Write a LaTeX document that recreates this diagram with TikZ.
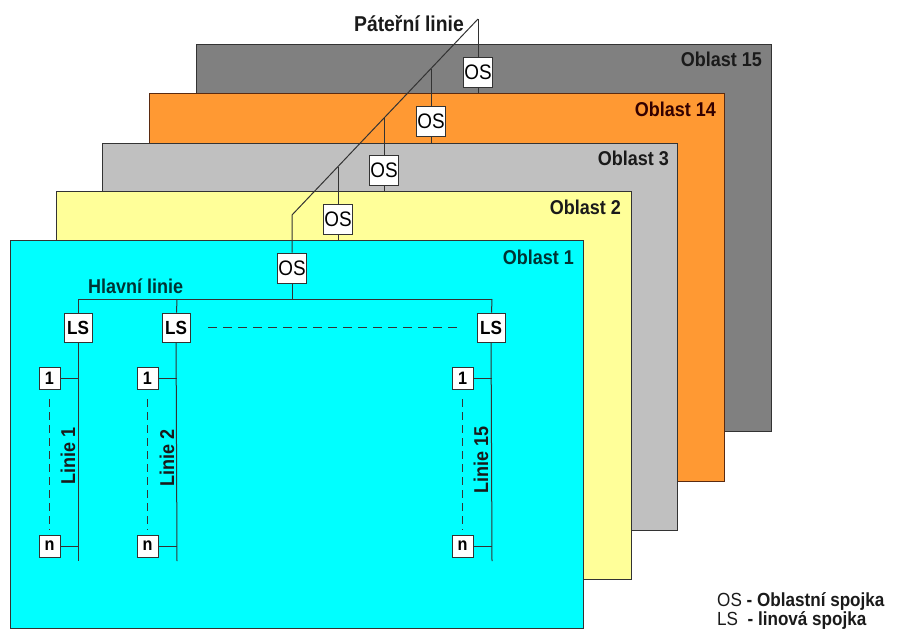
\documentclass[tikz,border=0pt]{standalone}
\usepackage{fontspec}
\setmainfont{Liberation Sans}[FakeStretch=0.9]
\definecolor{cA}{HTML}{00FFFF}
\definecolor{cB}{HTML}{FFFF99}
\definecolor{cC}{HTML}{C0C0C0}
\definecolor{cD}{HTML}{FF9933}
\definecolor{cE}{HTML}{808080}
\definecolor{edge}{HTML}{333333}
\definecolor{edgeor}{HTML}{5A2A10}
\definecolor{tealtxt}{HTML}{003333}
\definecolor{browntxt}{HTML}{330000}
\definecolor{darktxt}{HTML}{1A1A1A}
\begin{document}
\begin{tikzpicture}[x=1pt,y=-1pt,
  area/.style={line width=1pt},
  lbl/.style={font=\fontsize{20}{22}\selectfont\bfseries, inner sep=0pt, text=darktxt},
  osbox/.style={draw=edge, fill=white, line width=0.8pt, minimum width=29pt, minimum height=30pt, inner sep=0pt, font=\fontsize{21}{23}\selectfont},
  lsbox/.style={osbox, minimum width=28pt, minimum height=29pt, font=\fontsize{19}{21}\selectfont\bfseries},
  devbox/.style={osbox, minimum width=21pt, minimum height=22pt, font=\fontsize{18}{20}\selectfont\bfseries},
  wire/.style={draw=edge, line width=1pt},
  dashv/.style={wire, dash pattern=on 8pt off 5pt},
  dashh/.style={wire, dash pattern=on 9pt off 6pt},
]
\useasboundingbox (0,0) rectangle (905,630);

% ---- Oblast 15
\filldraw[area, fill=cE, draw=edge] (196,44) rectangle (771,431);
\node[lbl, anchor=base east] (l15) at (762,66) {Oblast 15};
\coordinate (j15) at (478,19);
\coordinate (b15) at (478,431);
\node[osbox] (os15) at (478,72) {OS};
\draw[wire] (j15) -- (os15);
\draw[wire] (os15) -- (b15);

% ---- Oblast 14
\filldraw[area, fill=cD, draw=edgeor] (149,93) rectangle (724,481);
\node[lbl, anchor=base east, text=browntxt] (l14) at (716,116) {Oblast 14};
\coordinate (j14) at (431,68.5);
\coordinate (b14) at (431,481);
\node[osbox] (os14) at (431,121) {OS};
\draw[wire] (j14) -- (os14);
\draw[wire] (os14) -- (b14);

% ---- Oblast 3
\filldraw[area, fill=cC, draw=edge] (102,143) rectangle (677,530);
\node[lbl, anchor=base east] (l3) at (669,165) {Oblast 3};
\coordinate (j3) at (384,118);
\coordinate (b3) at (384,530);
\node[osbox] (os3) at (384,170) {OS};
\draw[wire] (j3) -- (os3);
\draw[wire] (os3) -- (b3);

% ---- Oblast 2
\filldraw[area, fill=cB, draw=edge] (56,191) rectangle (631,579);
\node[lbl, anchor=base east] (l2) at (621,214) {Oblast 2};
\coordinate (j2) at (338,166.5);
\coordinate (b2) at (338,579);
\node[osbox] (os2) at (338,219) {OS};
\draw[wire] (j2) -- (os2);
\draw[wire] (os2) -- (b2);

% ---- Oblast 1
\filldraw[area, fill=cA, draw=edge] (10,240) rectangle (583,628);
\node[lbl, anchor=base east, text=tealtxt] (l1) at (574,264) {Oblast 1};
\coordinate (j1) at (292,215);
\coordinate (hm) at (292,299);
\node[osbox] (os1) at (292,268) {OS};
\draw[wire] (os1) -- (hm);

% main line
\coordinate (hl) at (78,299);
\coordinate (hr) at (492,299);
\draw[wire] (hl) -- (hr);
\node[lbl, anchor=base west, text=tealtxt] (hlab) at (88,293) {Hlavní linie};

% line 1
\coordinate (e1) at (78,561);
\node[lsbox] (ls1) at (78,327.5) {LS};
\draw[wire] (hl) -- (ls1);
\draw[wire] (ls1) -- (e1);
\node[devbox] (d1a) at (49.5,378) {1};
\node[devbox] (d1n) at (49.5,546) {n};
\draw[wire] (d1a) -- (d1a -| e1);
\draw[wire] (d1n) -- (d1n -| e1);
\draw[dashv] ([yshift=-10pt]d1a.south) -- ([yshift=5pt]d1n.north);
\node[lbl, rotate=90] (t1) at (68,456) {Linie 1};

% line 2
\coordinate (s2) at (177,299);
\coordinate (e2) at (177,561);
\node[lsbox] (ls2) at (176,327.5) {LS};
\draw[wire] (s2) -- (ls2);
\draw[wire] (ls2) -- (e2);
\node[devbox] (d2a) at (147.5,378) {1};
\node[devbox] (d2n) at (147.5,546) {n};
\draw[wire] (d2a) -- (d2a -| e2);
\draw[wire] (d2n) -- (d2n -| e2);
\draw[dashv] ([yshift=-10pt]d2a.south) -- ([yshift=5pt]d2n.north);
\node[lbl, rotate=90] (t2) at (167,458) {Linie 2};

% line 15
\coordinate (e15) at (492,561);
\node[lsbox] (ls15) at (491,327.5) {LS};
\draw[wire] (hr) -- (ls15);
\draw[wire] (ls15) -- (e15);
\node[devbox] (d15a) at (462.5,378) {1};
\node[devbox] (d15n) at (462.5,546) {n};
\draw[wire] (d15a) -- (d15a -| e15);
\draw[wire] (d15n) -- (d15n -| e15);
\draw[dashv] ([yshift=-10pt]d15a.south) -- ([yshift=5pt]d15n.north);
\node[lbl, rotate=90] (t15) at (481,460) {Linie 15};

% dashed between LS boxes
\draw[dashh] ([xshift=18pt]ls2.east) -- ([xshift=-14pt]ls15.west);

% backbone on top
\draw[wire] (j15) -- (j1) -- (os1);
\node[lbl, anchor=base east, font=\fontsize{21.5}{23}\selectfont\bfseries] (plab) at (464,31) {Páteřní linie};

% legend
\node[anchor=west, inner sep=0pt, text=darktxt, font=\fontsize{19}{21}\selectfont] (leg1) at (717,601) {OS \textbf{- Oblastní spojka}};
\node[anchor=west, inner sep=0pt, text=darktxt, font=\fontsize{19}{21}\selectfont] (leg2) at (717,620) {LS\ \ \textbf{- linová spojka}};
\end{tikzpicture}
\end{document}
